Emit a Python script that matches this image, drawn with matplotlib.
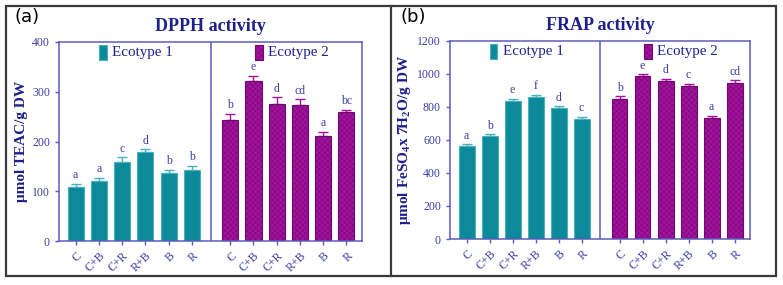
import numpy as np
import matplotlib
matplotlib.use('Agg')
import matplotlib.pyplot as plt
from matplotlib.patches import Rectangle

plt.rcParams['font.family'] = 'Liberation Serif'
plt.rcParams['mathtext.fontset'] = 'custom'
plt.rcParams['mathtext.rm'] = 'Liberation Serif:bold'
plt.rcParams['mathtext.it'] = 'Liberation Serif:bold'
plt.rcParams['mathtext.bf'] = 'Liberation Serif:bold'
plt.rcParams['hatch.linewidth'] = 0.35

# data
treatments = ['C', 'C+B', 'C+R', 'R+B', 'B', 'R']

dpph_eco1 = [109, 120, 158, 178, 137, 142]
dpph_eco1_err = [6, 7, 11, 6, 6, 9]
dpph_eco2 = [244, 321, 276, 273, 212, 259]
dpph_eco2_err = [12, 11, 13, 12, 8, 5]
dpph_eco1_letters = ['a', 'a', 'c', 'd', 'b', 'b']
dpph_eco2_letters = ['b', 'e', 'd', 'cd', 'a', 'bc']

frap_eco1 = [560, 625, 833, 860, 790, 727]
frap_eco1_err = [14, 8, 16, 14, 14, 14]
frap_eco2 = [849, 985, 956, 926, 730, 947]
frap_eco2_err = [15, 14, 14, 14, 16, 14]
frap_eco1_letters = ['a', 'b', 'e', 'f', 'd', 'c']
frap_eco2_letters = ['b', 'e', 'd', 'c', 'a', 'cd']

TEAL = '#0d8a9a'
TEAL_EDGE = '#49b0bc'
MAG = '#a3119f'
MAG_HATCH = '#6e0a6c'
NAVY = '#1e1e8c'
TICKC = '#3c3ca8'
SPINE = '#5b5bbd'

x1 = np.arange(6)
x2 = np.arange(6) + 6.65
width = 0.69

fig = plt.figure(figsize=(7.83, 2.85), dpi=100)

# outer frames
fig.add_artist(Rectangle((6 / 783, 1 - 276 / 285), 770 / 783, 270 / 285,
                         transform=fig.transFigure, fill=False,
                         edgecolor='#3a3a3a', lw=1.6))
fig.add_artist(plt.Line2D([391 / 783, 391 / 783], [1 - 276 / 285, 1 - 6 / 285],
                          transform=fig.transFigure, color='#3a3a3a', lw=1.6))


def panel(rect, v1, e1, l1, v2, e2, l2, ymax, step, title, ylabel, tag, tagx):
    ax = fig.add_axes(rect)
    ax.bar(x1, v1, width, color=TEAL, edgecolor=TEAL_EDGE, lw=0.8, zorder=2)
    ax.bar(x2, v2, width, color=MAG, edgecolor=MAG_HATCH, hatch='xxxxxx',
           lw=0.8, zorder=2)
    ax.errorbar(x1, v1, yerr=[np.zeros(6), e1], fmt='none', ecolor=TEAL_EDGE,
                capsize=3.5, elinewidth=1, capthick=1, zorder=1)
    ax.errorbar(x2, v2, yerr=[np.zeros(6), e2], fmt='none', ecolor=MAG,
                capsize=3.5, elinewidth=1, capthick=1, zorder=1)
    off = ymax * 0.012
    for x, v, e, t in zip(x1, v1, e1, l1):
        ax.text(x, v + e + off, t, ha='center', va='bottom', fontsize=8.5,
                color=TICKC)
    for x, v, e, t in zip(x2, v2, e2, l2):
        ax.text(x, v + e + off, t, ha='center', va='bottom', fontsize=8.5,
                color=TICKC)

    ax.set_xlim(-0.72, 12.32)
    ax.set_ylim(0, ymax)
    ax.set_yticks(np.arange(0, ymax + 1, step))
    ax.set_xticks(list(x1) + list(x2))
    ax.set_xticklabels(treatments * 2, rotation=45, ha='right',
                       rotation_mode='anchor')
    ax.tick_params(axis='both', colors=SPINE, labelcolor=TICKC, labelsize=8.5,
                   length=3, width=1)
    for s in ax.spines.values():
        s.set_color(SPINE)
        s.set_linewidth(1.1)
    ax.axvline(5.82, color=SPINE, lw=1.1)

    # legend patches
    tr = ax.get_xaxis_transform()
    ax.add_patch(Rectangle((1.0, 0.91), 0.34, 0.075, transform=tr,
                           facecolor=TEAL, edgecolor=TEAL_EDGE, lw=0.8))
    ax.text(1.58, 0.948, 'Ecotype 1', transform=tr, fontsize=10.8,
            color=NAVY, va='center', ha='left')
    ax.add_patch(Rectangle((7.7, 0.91), 0.34, 0.075, transform=tr,
                           facecolor=MAG, edgecolor=MAG_HATCH, hatch='xxxxxx',
                           lw=0.8))
    ax.text(8.28, 0.948, 'Ecotype 2', transform=tr, fontsize=10.8,
            color=NAVY, va='center', ha='left')

    ax.set_title(title, fontsize=13, fontweight='bold', color=NAVY, pad=8)
    ax.set_ylabel(ylabel, fontsize=11, fontweight='bold', color=NAVY,
                  labelpad=3)
    fig.text(tagx, 1 - 17 / 285, tag, fontsize=13, family='DejaVu Sans',
             va='center', ha='left')
    return ax


panel([59 / 783, 1 - 241 / 285, 303 / 783, 199 / 285],
      dpph_eco1, dpph_eco1_err, dpph_eco1_letters,
      dpph_eco2, dpph_eco2_err, dpph_eco2_letters,
      400, 100, 'DPPH activity', r'μmol TEAC/g DW', '(a)', 14 / 783)

panel([450 / 783, 1 - 239 / 285, 300 / 783, 198.3 / 285],
      frap_eco1, frap_eco1_err, frap_eco1_letters,
      frap_eco2, frap_eco2_err, frap_eco2_letters,
      1200, 200, 'FRAP activity', r'μmol FeSO$_4$x 7H$_2$O/g DW', '(b)', 400 / 783)

fig.savefig('out.png', dpi=100)
